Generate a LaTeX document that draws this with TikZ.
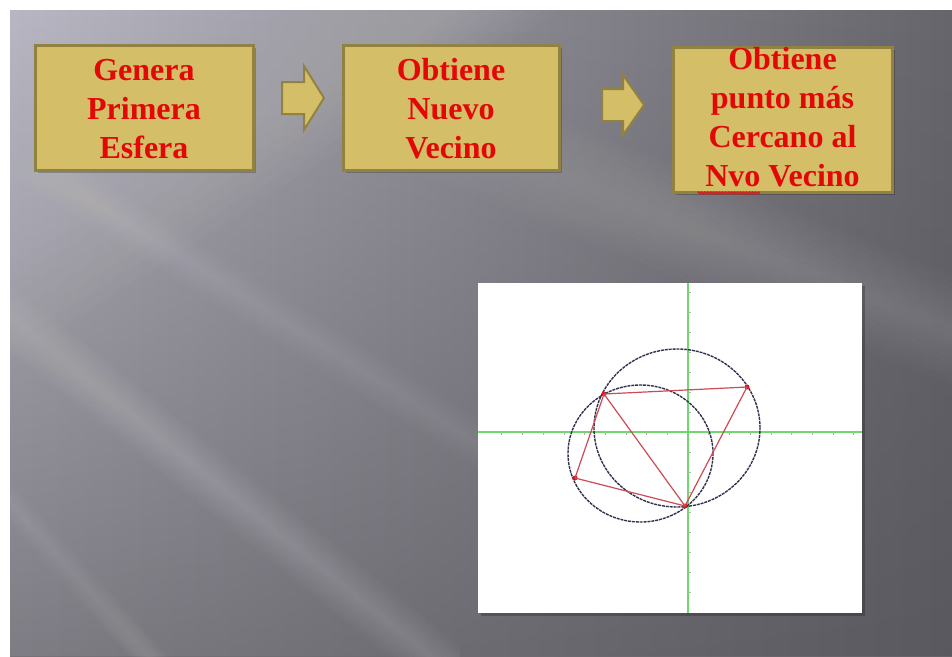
\documentclass[tikz,border=0pt]{standalone}
\usepackage{fontspec}
\setmainfont{Liberation Serif}
\usetikzlibrary{decorations.pathmorphing,calc,fadings}
\definecolor{bgUL}{RGB}{180,178,190}
\definecolor{bgUR}{RGB}{102,101,107}
\definecolor{bgLL}{RGB}{124,122,129}
\definecolor{bgLR}{RGB}{88,87,93}
\definecolor{boxfill}{RGB}{212,190,104}
\definecolor{boxline}{RGB}{145,130,66}
\definecolor{txtred}{RGB}{226,8,8}
\definecolor{axisgreen}{RGB}{110,215,110}
\definecolor{tickgray}{RGB}{160,190,160}
\definecolor{circblue}{RGB}{50,50,80}
\definecolor{segred}{RGB}{205,75,85}
\definecolor{dotred}{RGB}{215,25,30}
\newcommand{\softband}[6]{%
  \foreach \f in {1,0.875,...,0.1} {
    \fill[white, opacity=#6] (#1,#2-#5*\f) -- (#3,#4-#5*\f) -- (#3,#4+#5*\f) -- (#1,#2+#5*\f) -- cycle;
  }}
\tikzset{
  stepbox/.style={draw=boxline, line width=3pt, fill=boxfill, rectangle, inner sep=0pt},
  boxtext/.style={text=txtred, font=\fontsize{32}{39}\selectfont\bfseries, anchor=base, inner sep=0pt},
  blockarrow/.style={draw=boxline, line width=2pt, fill=boxfill, line join=miter},
  shadowfill/.style={fill=black, opacity=0.22},
  axisline/.style={draw=axisgreen, line width=1.6pt},
  tickline/.style={draw=tickgray, line width=0.6pt},
  circline/.style={draw=circblue, line width=1.4pt, dash pattern=on 3pt off 0.9pt},
  segline/.style={draw=segred, line width=1.2pt},
  ptdot/.style={circle, fill=dotred, inner sep=0pt, minimum size=5pt}
}
\begin{document}
\begin{tikzpicture}[x=1pt,y=-1pt]
\useasboundingbox (0,0) rectangle (952,656);
% background
\fill[white] (0,0) rectangle (952,656);
\begin{scope}
  \clip (10,10) rectangle (952,656);
  \shade[left color=bgUL, right color=bgUR] (0,0) rectangle (962,672);
  \shade[left color=bgLL, right color=bgLR, path fading=north] (-10,-10) rectangle (972,700);
  \fill[bgLL!60!bgLR, opacity=0.5] (-10,656) rectangle (972,720);
  \foreach \f in {1,0.9,...,0.35} {
    \fill[white, opacity=0.018] (10,10) -- (400+160*\f,10) -- (10,200+160*\f) -- cycle;
  }
  \softband{10}{317}{460}{680}{34}{0.018}
  \softband{10}{503}{170}{680}{22}{0.015}
  \softband{420}{120}{952}{330}{55}{0.015}
  \softband{10}{150}{520}{470}{26}{0.01}
\end{scope}
% shadows
\fill[shadowfill] (38,48) rectangle (256,173);
\fill[shadowfill] (346,48) rectangle (562,173);
\fill[shadowfill] (676,50) rectangle (895,195);
\fill[shadowfill] (481,286) rectangle (865,616);
% boxes
\node[stepbox, minimum width=218pt, minimum height=125pt] (b1) at (144,107.5) {};
\node[stepbox, minimum width=216pt, minimum height=125pt] (b2) at (451,107.5) {};
\node[stepbox, minimum width=219pt, minimum height=145pt] (b3) at (782.5,119.5) {};
% texts
\node[boxtext] (t11) at (144,80) {Genera};
\node[boxtext] (t12) at (144,119) {Primera};
\node[boxtext] (t13) at (144,158) {Esfera};
\node[boxtext] (t21) at (451,80) {Obtiene};
\node[boxtext] (t22) at (451,119) {Nuevo};
\node[boxtext] (t23) at (451,158) {Vecino};
\node[boxtext] (t31) at (782.5,69) {Obtiene};
\node[boxtext] (t32) at (782.5,108) {punto más};
\node[boxtext] (t33) at (782.5,147) {Cercano al};
\node[boxtext] (t34) at (782.5,186) {Nvo Vecino};
\draw[dotred, line width=1.4pt, decorate, decoration={zigzag, segment length=3pt, amplitude=0.8pt}] (698,193) -- (760,193);
% block arrows
\draw[blockarrow] (282,82) -- (304,82) -- (304,66) -- (324,98) -- (304,130) -- (304,114) -- (282,114) -- cycle;
\draw[blockarrow] (602,89) -- (623,89) -- (623,75) -- (644,105) -- (623,135) -- (623,121) -- (602,121) -- cycle;
% plot panel
\node[fill=white, draw=none, rectangle, inner sep=0pt, minimum width=384pt, minimum height=330pt] (panel) at (670,448) {};
\coordinate (ox) at (688,432);
\draw[axisline] (panel.west |- ox) -- (panel.east |- ox);
\draw[axisline] (panel.north -| ox) -- (panel.south -| ox);
\foreach \k in {-9,...,-1,1,2,...,8} {
  \draw[tickline] ($(ox)+(\k*20.7,0)$) -- ++(0,2.5);
}
\foreach \k in {-7,...,-1,1,2,...,8} {
  \draw[tickline] ($(ox)+(0,\k*20)$) -- ++(3,0);
}
% circles
\draw[circline] (677,428) ellipse [x radius=83pt, y radius=79pt];
\draw[circline] (640.5,453.5) ellipse [x radius=72.5pt, y radius=68.5pt];
% points
\node[ptdot] (P1) at (604,394) {};
\node[ptdot] (P2) at (747,387) {};
\node[ptdot] (P3) at (685,506) {};
\node[ptdot] (P4) at (575,478) {};
\draw[segline] (P1.center) -- (P2.center);
\draw[segline] (P2.center) -- (P3.center);
\draw[segline] (P1.center) -- (P3.center);
\draw[segline] (P1.center) -- (P4.center);
\draw[segline] (P4.center) -- (P3.center);
\end{tikzpicture}
\end{document}
